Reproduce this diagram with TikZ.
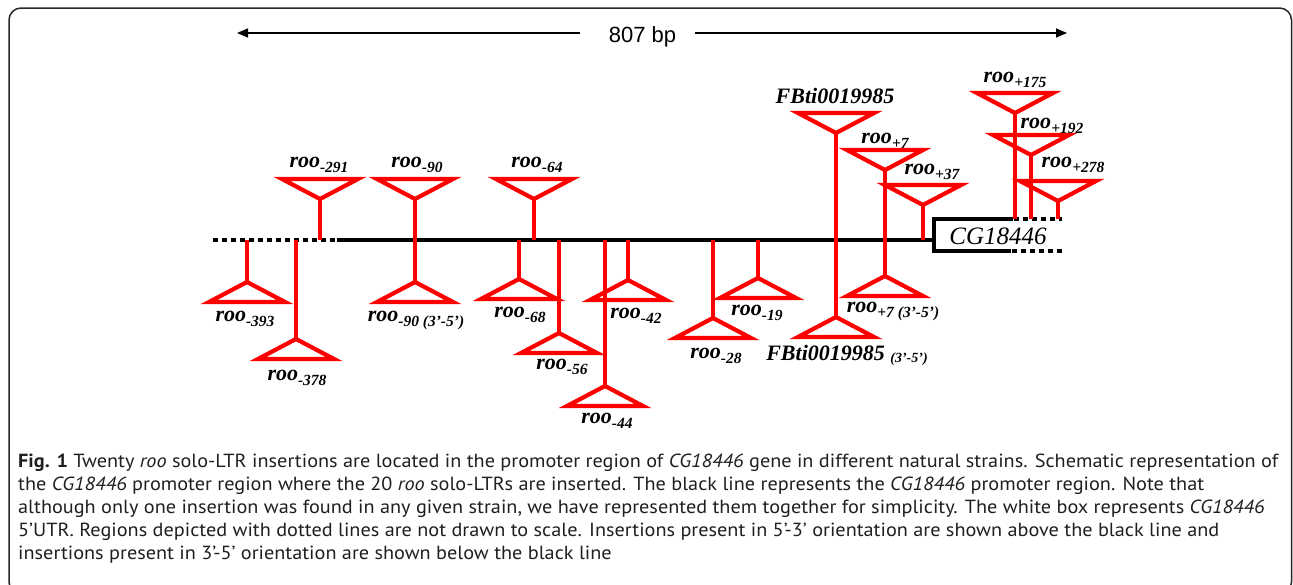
\documentclass[tikz,border=0pt]{standalone}
\usepackage{fontspec}
\setmainfont{Liberation Serif}
\newfontfamily\capfont{PT Sans}
\newfontfamily\arialfont{Liberation Sans}
\usetikzlibrary{arrows.meta}
\newcommand\sbx[1]{\raisebox{-5pt}{\fontsize{15.5}{15.5}\selectfont #1}}
\newcommand\upins[3]{%
  \draw[ins] ({#1-38},#2) -- ({#1+38},#2) -- (#1,{#2+20}) -- cycle;
  \draw[ins] (#1,{#2+20}) -- (#1,#3);}
\newcommand\loins[2]{%
  \draw[ins] (#1,240) -- (#1,#2);
  \draw[ins] (#1,#2) -- ({#1+38},{#2+20}) -- ({#1-38},{#2+20}) -- cycle;}
\newlength\capw
\newcommand\capone{{\bfseries Fig. 1} Twenty {\itshape roo} solo-LTR insertions are located in the promoter region of {\itshape CG18446} gene in different natural strains. Schematic representation of}
\begin{document}
\settowidth\capw{\capfont\fontsize{19}{19}\selectfont\capone}%
\pgfmathsetmacro\capsx{1260/\capw}%
\begin{tikzpicture}[x=1pt,y=-1pt,
  ins/.style={draw=red, line width=4.2pt, line join=miter, miter limit=10},
  lab/.style={font=\fontsize{22}{22}\selectfont\bfseries\itshape, inner sep=0pt, anchor=base},
  dna/.style={line width=4pt, draw=black},
  dotline/.style={line width=4pt, draw=black, dash pattern=on 5pt off 4pt},
  capline/.style={font=\capfont\fontsize{19}{19}\selectfont, text=black!88, inner sep=0pt, anchor=base west},
  scalearrow/.style={line width=1.5pt, -{Triangle[length=11pt,width=9pt]}}]
\useasboundingbox (0,0) rectangle (1293,584);
\draw[line width=1.5pt, rounded corners=12pt, black!85] (9,8) rectangle (1291.5,594);
% scale bar
\node[font=\arialfont\fontsize{22}{22}\selectfont, inner sep=0pt, anchor=base] (bp) at (642.5,42) {807 bp};
\coordinate (bl) at (237,33);
\coordinate (br) at (1067,33);
\draw[scalearrow] (bp.west |- bl) ++(-29,0) -- (bl);
\draw[scalearrow] (bp.east |- br) ++(19,0) -- (br);
% promoter line and box
\coordinate (l0) at (213,240);
\coordinate (l1) at (337,240);
\coordinate (bx) at (934,240);
\draw[dotline] (l0) -- (l1);
\draw[dna] (l1) -- (bx);
\draw[dna, line join=miter] (1013,219) -- (934,219) -- (934,251) -- (1011,251);
\draw[dotline] (1014,219) -- (1062,219);
\draw[dotline] (1012,251) -- (1062,251);
\node[font=\fontsize{25}{25}\selectfont\itshape, inner sep=0pt, anchor=base] (gene) at (998,244) {CG18446};
% insertions above (5'-3')
\upins{320}{179}{240}
\upins{415}{179}{240}
\upins{534}{179}{240}
\upins{836}{113}{240}
\upins{885}{150}{240}
\upins{923}{185}{240}
\upins{1015}{93}{219}
\upins{1031}{135}{219}
\upins{1058}{181}{219}
% insertions below (3'-5')
\loins{247}{282}
\loins{296}{339}
\loins{415}{282}
\loins{519}{279}
\loins{559}{333}
\loins{605}{386}
\loins{628}{280}
\loins{713}{318}
\loins{758}{278}
\loins{836}{317}
\loins{885}{276}
% labels above
\node[lab] (a1) at (319,167) {roo\sbx{-291}};
\node[lab] (a2) at (417,167) {roo\sbx{-90}};
\node[lab] (a3) at (537,167) {roo\sbx{-64}};
\node[lab] (a4) at (835,103) {FBti0019985};
\node[lab] (a5) at (885,143) {roo\sbx{+7}};
\node[lab] (a6) at (932,174) {roo\sbx{+37}};
\node[lab] (a7) at (1015,82) {roo\sbx{+175}};
\node[lab] (a8) at (1052,128) {roo\sbx{+192}};
\node[lab] (a9) at (1073,167) {roo\sbx{+278}};
% labels below
\node[lab] (b1) at (245,321) {roo\sbx{-393}};
\node[lab] (b2) at (297,380) {roo\sbx{-378}};
\node[lab] (b3) at (416,321) {roo\sbx{-90 (3’-5’)}};
\node[lab] (b4) at (520,317) {roo\sbx{-68}};
\node[lab] (b5) at (562,369) {roo\sbx{-56}};
\node[lab] (b6) at (607,423) {roo\sbx{-44}};
\node[lab] (b7) at (636,318) {roo\sbx{-42}};
\node[lab] (b8) at (716,358) {roo\sbx{-28}};
\node[lab] (b9) at (757,315) {roo\sbx{-19}};
\node[lab] (b10) at (847,360) {FBti0019985 \raisebox{-2pt}{\fontsize{14}{14}\selectfont (3’-5’)}};
\node[lab] (b11) at (893,312) {roo\sbx{+7 (3’-5’)}};
% caption
\node[capline] (c1) at (18,467) {\scalebox{\capsx}[1]{\capone}};
\node[capline] (c2) at (18,490) {\scalebox{\capsx}[1]{the {\itshape CG18446} promoter region where the 20 {\itshape roo} solo-LTRs are inserted. The black line represents the {\itshape CG18446} promoter region. Note that}};
\node[capline] (c3) at (18,513) {\scalebox{\capsx}[1]{although only one insertion was found in any given strain, we have represented them together for simplicity. The white box represents {\itshape CG18446}}};
\node[capline] (c4) at (18,536) {\scalebox{\capsx}[1]{5’UTR. Regions depicted with dotted lines are not drawn to scale. Insertions present in 5’-3’ orientation are shown above the black line and}};
\node[capline] (c5) at (18,559) {\scalebox{\capsx}[1]{insertions present in 3’-5’ orientation are shown below the black line}};
\end{tikzpicture}
\end{document}
